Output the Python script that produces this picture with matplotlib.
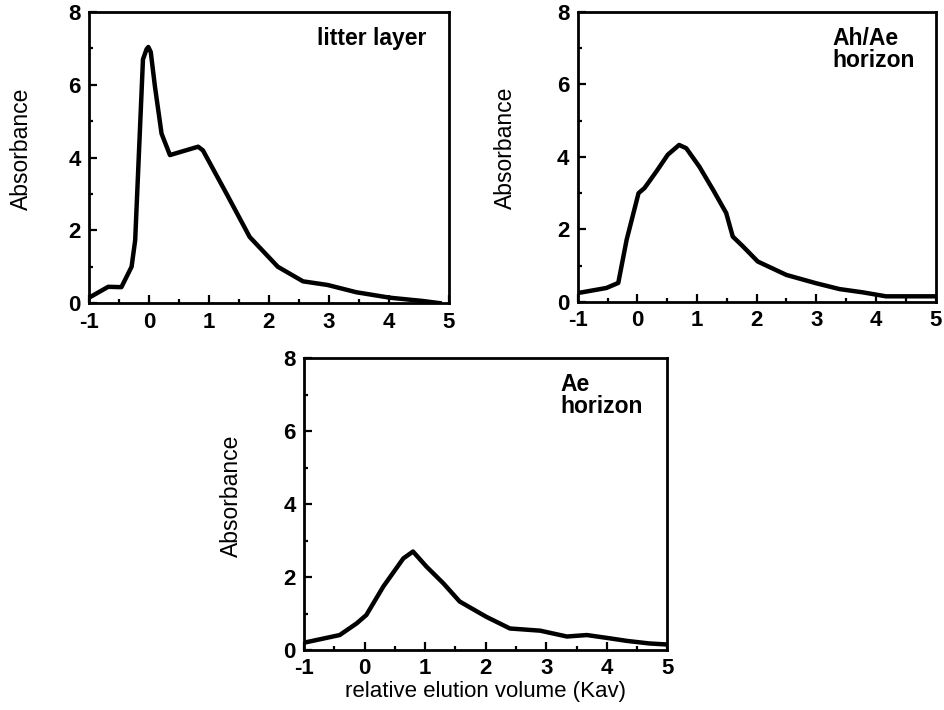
import matplotlib.pyplot as plt
from matplotlib.ticker import MultipleLocator

plt.rcParams['font.family'] = ['Liberation Sans', 'DejaVu Sans']
plt.rcParams['axes.unicode_minus'] = False

# litter layer
litter_x = [-1.0, -0.68, -0.46, -0.29, -0.23, -0.1, -0.04, -0.01, 0.03, 0.1, 0.21, 0.35,
            0.82, 0.9, 1.29, 1.68, 2.15, 2.57, 2.98, 3.46, 4.02, 4.57, 4.85]
litter_y = [0.15, 0.45, 0.44, 1.0, 1.73, 6.7, 6.98, 7.04, 6.9, 5.95, 4.66, 4.07,
            4.3, 4.2, 3.02, 1.82, 1.0, 0.6, 0.5, 0.3, 0.15, 0.06, 0.0]

# Ah/Ae horizon
ahae_x = [-1.0, -0.52, -0.32, -0.18, 0.02, 0.12, 0.32, 0.51, 0.7, 0.82, 1.04,
          1.27, 1.49, 1.6, 1.77, 2.02, 2.5, 3.0, 3.39, 3.78, 4.17, 4.98]
ahae_y = [0.24, 0.38, 0.52, 1.71, 3.0, 3.14, 3.6, 4.06, 4.33, 4.24, 3.73,
          3.09, 2.45, 1.8, 1.53, 1.11, 0.74, 0.51, 0.35, 0.26, 0.15, 0.15]

# Ae horizon
ae_x = [-1.0, -0.41, -0.13, 0.03, 0.31, 0.64, 0.8, 1.02, 1.3, 1.57, 2.01,
        2.4, 2.9, 3.34, 3.67, 4.05, 4.33, 4.7, 5.0]
ae_y = [0.2, 0.41, 0.73, 0.96, 1.74, 2.51, 2.7, 2.29, 1.83, 1.33, 0.91,
        0.59, 0.53, 0.37, 0.41, 0.32, 0.25, 0.18, 0.15]

xticks = [-1, 0, 1, 2, 3, 4, 5]
yticks = [0, 2, 4, 6, 8]

fig = plt.figure(figsize=(9.44, 7.1), dpi=100)

def panel(rect, x, y, label, lx, ly, ha, lab_x, xlabel=None):
    ax = fig.add_axes(rect)
    ax.plot(x, y, color='black', lw=3.2, solid_joinstyle='round')
    ax.set_xlim(-1, 5)
    ax.set_ylim(0, 8)
    ax.set_xticks(xticks)
    ax.set_yticks(yticks)
    ax.xaxis.set_minor_locator(MultipleLocator(0.5))
    ax.yaxis.set_minor_locator(MultipleLocator(1))
    ax.tick_params(which='both', direction='in', width=1.6, labelsize=16, pad=6)
    ax.tick_params(which='major', length=6)
    ax.tick_params(which='minor', length=3)
    for t in ax.get_xticklabels() + ax.get_yticklabels():
        t.set_fontweight('bold')
    for s in ax.spines.values():
        s.set_linewidth(2)
    ax.set_ylabel('Absorbance', fontsize=16.5)
    ax.yaxis.set_label_coords(lab_x, 0.53)
    ax.text(lx, ly, label, fontsize=16.5, fontweight='bold', ha=ha, va='top',
            linespacing=0.95)
    if xlabel:
        ax.set_xlabel(xlabel, fontsize=16, labelpad=1)
    return ax

panel([0.0943, 0.573, 0.381, 0.410], litter_x, litter_y, 'litter layer',
      4.63, 7.6, 'right', -0.155)
panel([0.612, 0.575, 0.379, 0.408], ahae_x, ahae_y, 'Ah/Ae\nhorizon',
      3.27, 7.6, 'left', -0.17)
panel([0.322, 0.0845, 0.385, 0.411], ae_x, ae_y, 'Ae\nhorizon',
      3.23, 7.6, 'left', -0.168, 'relative elution volume (Kav)')

fig.savefig('out.png', dpi=100)
